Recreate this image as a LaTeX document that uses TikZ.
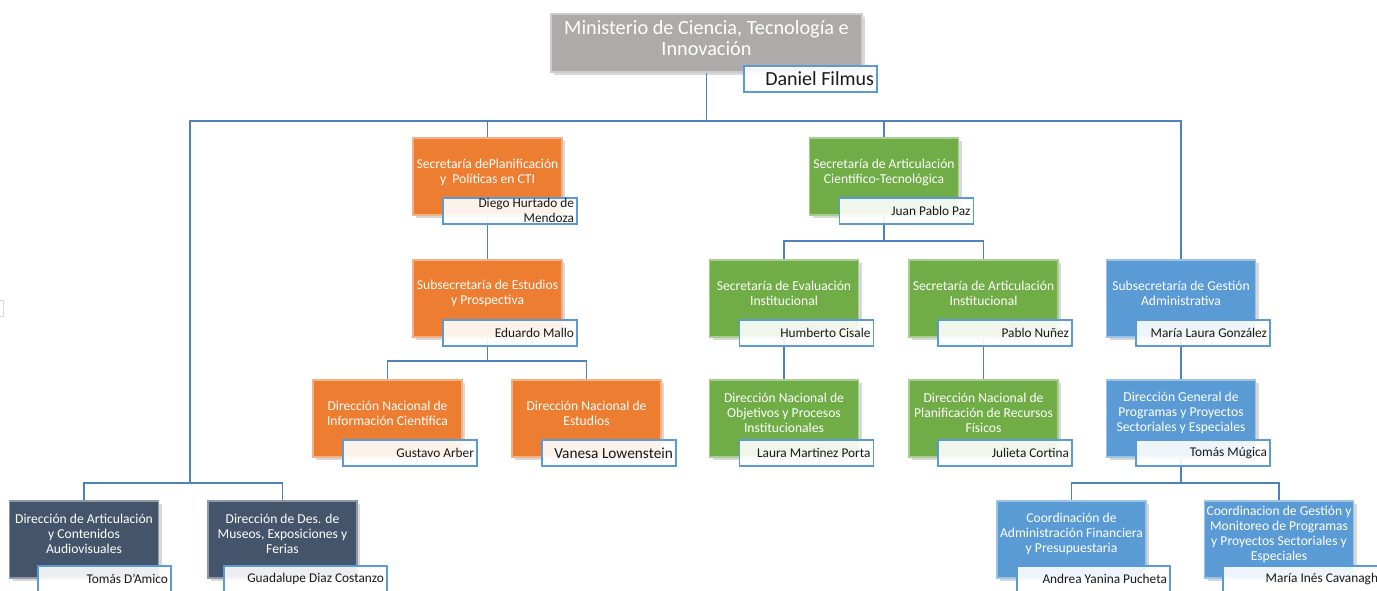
\documentclass[tikz,border=0pt]{standalone}
\usepackage{fontspec}
\setmainfont{Carlito}
\usetikzlibrary{shadows,backgrounds}
\definecolor{corange}{HTML}{ED7D31}
\definecolor{cgreen}{HTML}{70AD47}
\definecolor{cblue}{HTML}{5B9BD5}
\definecolor{cdark}{HTML}{44546A}
\definecolor{cgray}{HTML}{AEAAAA}
\definecolor{cline}{HTML}{4F81BD}
\definecolor{cname}{HTML}{5B9BD5}
\begin{document}
\begin{tikzpicture}[x=0.75pt,y=-0.75pt,
 ubox/.style={rectangle, fill=#1, draw=#1!60!white, line width=0.8pt, minimum width=111.75pt, minimum height=57.75pt, inner sep=0pt, drop shadow={shadow xshift=2.5pt,shadow yshift=-2.5pt,opacity=0.3}},
 utext/.style={text=white, align=center, font=\fontsize{10.2}{11.25}\selectfont, inner sep=0pt},
 nbox/.style={rectangle, draw=cname, line width=1.3pt, fill=white, fill opacity=0.9, text opacity=1, minimum height=19.5pt, inner xsep=2.25pt, inner ysep=0pt, text width=96pt, align=flush right, font=\fontsize{10}{11.25}\selectfont, text=black!90},
 conn/.style={draw=cline, line width=1.4pt},
]
\useasboundingbox (0,0) rectangle (1377,590);
\clip (0,0) rectangle (1377,590);
\draw[black!15, line width=0.6pt] (-3,300) rectangle (3,316);

% top
\node[ubox=cgray, minimum width=233.25pt, minimum height=43.5pt] (top) at (706.5,43) {};
\node[utext, font=\fontsize{15.2}{15.75}\selectfont] (topt) at (706.5,38) {Ministerio de Ciencia, Tecnología e\\Innovación};
\node[nbox, text width=95.25pt, font=\fontsize{15}{16}\selectfont] (topn) at (810.5,79) {Daniel Filmus};

% orange
\node[ubox=corange] (o1) at (487.5,176.5) {};
\node[utext] (o1t) at (487.5,172) {Secretaría dePlanificación\\y\ \ Políticas en CTI};
\node[nbox] (o1n) at (510,211) {\smash{\raisebox{-3.5pt}{\begin{tabular}[c]{@{}r@{}}Diego Hurtado de\\Mendoza\end{tabular}}}};

\node[ubox=corange] (o2) at (487.5,298.5) {};
\node[utext] (o2t) at (487.5,293.5) {Subsecretaría de Estudios\\y Prospectiva};
\node[nbox] (o2n) at (510,333) {Eduardo Mallo};

\node[ubox=corange] (o3) at (387.5,418.5) {};
\node[utext] (o3t) at (387.5,413) {Dirección Nacional de\\Información Científica};
\node[nbox] (o3n) at (410,453) {Gustavo Arber};

\node[ubox=corange] (o4) at (586.5,418.5) {};
\node[utext] (o4t) at (586.5,413) {Dirección Nacional de\\Estudios};
\node[nbox, font=\fontsize{11.5}{12}\selectfont] (o4n) at (609,453) {Vanesa Lowenstein};

% green
\node[ubox=cgreen] (g1) at (884,176.5) {};
\node[utext] (g1t) at (884,172) {Secretaría de Articulación\\Científico-Tecnológica};
\node[nbox] (g1n) at (906.5,211) {Juan Pablo Paz};

\node[ubox=cgreen] (g2) at (784,298.5) {};
\node[utext] (g2t) at (784,293) {Secretaría de Evaluación\\Institucional};
\node[nbox] (g2n) at (806.5,333) {Humberto Cisale};

\node[ubox=cgreen] (g3) at (983.5,298.5) {};
\node[utext] (g3t) at (983.5,293) {Secretaría de Articulación\\Institucional};
\node[nbox] (g3n) at (1005,333) {Pablo Nuñez};

\node[ubox=cgreen] (g4) at (784,418.5) {};
\node[utext] (g4t) at (784,413) {Dirección Nacional de\\Objetivos y Procesos\\Institucionales};
\node[nbox] (g4n) at (806.5,453) {Laura Martinez Porta};

\node[ubox=cgreen] (g5) at (983.5,418.5) {};
\node[utext] (g5t) at (983.5,413) {Dirección Nacional de\\Planificación de Recursos\\Físicos};
\node[nbox] (g5n) at (1005,453) {Julieta Cortina};

% blue
\node[ubox=cblue] (b1) at (1181,298.5) {};
\node[utext] (b1t) at (1181,293) {Subsecretaría de Gestión\\Administrativa};
\node[nbox] (b1n) at (1203,333) {María Laura González};

\node[ubox=cblue] (b2) at (1181,418.5) {};
\node[utext] (b2t) at (1181,413) {Dirección General de\\Programas y Proyectos\\Sectoriales y Especiales};
\node[nbox] (b2n) at (1203,453) {Tomás Múgica};

\node[ubox=cblue] (c1) at (1071.5,539.5) {};
\node[utext] (c1t) at (1071.5,534) {Coordinación de\\Administración Financiera\\y Presupuestaria};
\node[nbox, text width=110.25pt] (c1n) at (1093.5,579) {Andrea Yanina Pucheta};

\node[ubox=cblue] (c2) at (1279,539.5) {};
\node[utext] (c2t) at (1279,534) {Coordinacion de Gestión y\\Monitoreo de Programas\\y Proyectos Sectoriales y\\Especiales};
\node[nbox, text width=114pt] (c2n) at (1302,579) {María Inés Cavanagh};

% dark
\node[ubox=cdark] (d1) at (84,539.5) {};
\node[utext] (d1t) at (84,534) {Dirección de Articulación\\y Contenidos\\Audiovisuales};
\node[nbox, text width=95.25pt] (d1n) at (104.5,579) {Tomás D'Amico};

\node[ubox=cdark] (d2) at (282.5,539.5) {};
\node[utext] (d2t) at (282.5,534) {Dirección de Des. de\\Museos, Exposiciones y\\Ferias};
\node[nbox, text width=117.75pt] (d2n) at (305.5,579) {Guadalupe Diaz Costanzo};

% connectors
\coordinate (bus) at (706.5,121);
\coordinate (jL) at (190,483);
\coordinate (jo) at (487.5,361);
\coordinate (jg) at (884,241);
\coordinate (jb) at (1181,483);
\begin{scope}[on background layer]
\fill[white] (0,0) rectangle (1377,590);
\draw[conn] (top.south) -- (bus);
\draw[conn] (jL) -- (jL |- bus) -- (b1.north |- bus) -- (b1.north);
\draw[conn] (o1.north) -- (o1.north |- bus);
\draw[conn] (g1.north) -- (g1.north |- bus);
\draw[conn] (d1.north) |- (jL) -| (d2.north);
\draw[conn] (o1) -- (o2);
\draw[conn] (o2) -- (jo);
\draw[conn] (o3.north) |- (jo) -| (o4.north);
\draw[conn] (g1) -- (jg);
\draw[conn] (g2.north) |- (jg) -| (g3.north);
\draw[conn] (g2) -- (g4);
\draw[conn] (g3) -- (g5);
\draw[conn] (b1) -- (b2);
\draw[conn] (b2) -- (jb);
\draw[conn] (c1.north) |- (jb) -| (c2.north);
\end{scope}
\end{tikzpicture}
\end{document}
